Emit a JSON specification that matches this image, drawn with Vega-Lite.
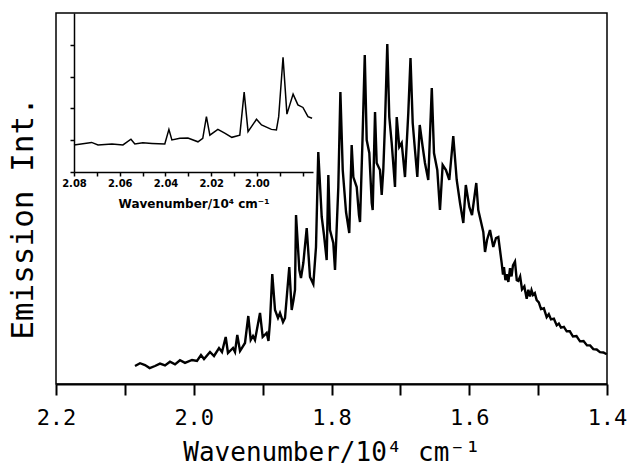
{
  "$schema": "https://vega.github.io/schema/vega-lite/v6.json",
  "autosize": {"type": "none"},
  "padding": {"left": 56, "top": 13, "right": 22, "bottom": 87},
  "width": 551,
  "height": 371,
  "background": "white",
  "config": {"view": {"stroke": "black", "strokeWidth": 1.5}, "axis": {"grid": false}},
  "datasets": {
    "main": [
      {"w":2.0853,"I":4.85},{"w":2.0780,"I":5.6},{"w":2.0708,"I":5.12},{"w":2.0640,"I":4.3},{"w":2.0563,"I":4.85},{"w":2.0490,"I":5.5},{"w":2.0417,"I":5.0},{"w":2.0345,"I":6.0},{"w":2.0272,"I":5.3},{"w":2.0200,"I":6.4},{"w":2.0127,"I":5.7},{"w":2.0025,"I":6.47},{"w":1.9953,"I":6.2},{"w":1.9895,"I":7.82},{"w":1.9851,"I":6.74},{"w":1.9764,"I":8.63},{"w":1.9706,"I":7.55},{"w":1.9633,"I":9.7},{"w":1.959,"I":8.63},{"w":1.9536,"I":12.67},{"w":1.9503,"I":8.36},{"w":1.943,"I":9.7},{"w":1.9401,"I":8.63},{"w":1.9368,"I":13.21},{"w":1.9328,"I":8.89},{"w":1.9256,"I":11.05},{"w":1.9208,"I":18.33},{"w":1.9173,"I":11.86},{"w":1.914,"I":12.94},{"w":1.9111,"I":11.86},{"w":1.9038,"I":19.14},{"w":1.8999,"I":12.67},{"w":1.8941,"I":13.75},{"w":1.8915,"I":11.59},{"w":1.8893,"I":16.71},{"w":1.886,"I":29.65},{"w":1.882,"I":19.95},{"w":1.8777,"I":17.79},{"w":1.8748,"I":19.14},{"w":1.8704,"I":16.71},{"w":1.8675,"I":17.79},{"w":1.8613,"I":31.54},{"w":1.8578,"I":19.95},{"w":1.8552,"I":22.64},{"w":1.853,"I":25.34},{"w":1.8515,"I":45.55},{"w":1.8467,"I":30.73},{"w":1.8443,"I":28.57},{"w":1.8409,"I":32.61},{"w":1.836,"I":42.05},{"w":1.8312,"I":28.84},{"w":1.8264,"I":26.95},{"w":1.8225,"I":36.93},{"w":1.8192,"I":62.53},{"w":1.8142,"I":45.01},{"w":1.8109,"I":40.16},{"w":1.807,"I":33.42},{"w":1.8046,"I":56.33},{"w":1.8022,"I":41.51},{"w":1.7974,"I":38.01},{"w":1.7949,"I":30.73},{"w":1.7901,"I":53.1},{"w":1.7871,"I":78.71},{"w":1.7837,"I":57.68},{"w":1.7789,"I":46.36},{"w":1.7742,"I":40.7},{"w":1.7707,"I":64.42},{"w":1.7683,"I":55.79},{"w":1.7634,"I":53.1},{"w":1.7601,"I":45.55},{"w":1.7586,"I":43.67},{"w":1.755,"I":65.77},{"w":1.7517,"I":88.68},{"w":1.7489,"I":65.77},{"w":1.7451,"I":62.26},{"w":1.7416,"I":48.79},{"w":1.7402,"I":46.9},{"w":1.7368,"I":73.31},{"w":1.7344,"I":59.57},{"w":1.7296,"I":57.68},{"w":1.7271,"I":50.94},{"w":1.7248,"I":57.68},{"w":1.7223,"I":70.35},{"w":1.719,"I":91.64},{"w":1.7161,"I":71.97},{"w":1.7126,"I":64.96},{"w":1.7078,"I":53.1},{"w":1.7053,"I":71.97},{"w":1.7016,"I":63.88},{"w":1.6981,"I":64.96},{"w":1.6933,"I":55.79},{"w":1.6885,"I":73.05},{"w":1.6853,"I":87.87},{"w":1.6821,"I":70.35},{"w":1.6788,"I":63.07},{"w":1.6754,"I":55.79},{"w":1.6719,"I":69.81},{"w":1.6676,"I":63.88},{"w":1.6643,"I":59.57},{"w":1.6595,"I":54.99},{"w":1.6544,"I":79.78},{"w":1.6512,"I":62.26},{"w":1.6464,"I":57.68},{"w":1.6425,"I":46.9},{"w":1.6386,"I":59.03},{"w":1.6338,"I":57.68},{"w":1.629,"I":54.99},{"w":1.6232,"I":66.85},{"w":1.6182,"I":54.99},{"w":1.6134,"I":48.79},{"w":1.6086,"I":43.4},{"w":1.605,"I":53.64},{"w":1.5999,"I":47.71},{"w":1.596,"I":45.55},{"w":1.5898,"I":54.18},{"w":1.5869,"I":46.9},{"w":1.5829,"I":43.67},{"w":1.5796,"I":40.97},{"w":1.5771,"I":35.58},{"w":1.5742,"I":38.81},{"w":1.5699,"I":41.51},{"w":1.5651,"I":36.93},{"w":1.5612,"I":39.35},{"w":1.5578,"I":39.62},{"w":1.5529,"I":32.6},{"w":1.551,"I":29.5},{"w":1.5496,"I":31.5},{"w":1.5475,"I":28.0},{"w":1.5456,"I":29.6},{"w":1.5432,"I":27.5},{"w":1.5408,"I":31.2},{"w":1.5386,"I":29.0},{"w":1.5365,"I":32.0},{"w":1.5336,"I":33.0},{"w":1.531,"I":28.0},{"w":1.5288,"I":27.8},{"w":1.5261,"I":29.0},{"w":1.5234,"I":25.5},{"w":1.52,"I":26.3},{"w":1.5166,"I":23.0},{"w":1.5142,"I":25.4},{"w":1.5118,"I":23.6},{"w":1.5096,"I":25.3},{"w":1.5074,"I":24.0},{"w":1.5048,"I":24.5},{"w":1.5021,"I":22.6},{"w":1.499,"I":22.0},{"w":1.4958,"I":20.2},{"w":1.4917,"I":20.4},{"w":1.4876,"I":18.0},{"w":1.4845,"I":18.8},{"w":1.4813,"I":17.4},{"w":1.4771,"I":17.6},{"w":1.473,"I":15.8},{"w":1.4699,"I":16.3},{"w":1.4668,"I":15.2},{"w":1.4626,"I":15.4},{"w":1.4585,"I":14.2},{"w":1.454,"I":14.2},{"w":1.4494,"I":12.8},{"w":1.4443,"I":12.9},{"w":1.4392,"I":11.5},{"w":1.4341,"I":11.6},{"w":1.429,"I":10.4},{"w":1.4245,"I":10.4},{"w":1.4199,"I":9.4},{"w":1.415,"I":9.3},{"w":1.4102,"I":8.6},{"w":1.4053,"I":8.5},{"w":1.4004,"I":8.0}
    ],
    "inset": [
      {"w":2.08,"I":0.85},{"w":2.0723,"I":0.93},{"w":2.0695,"I":0.85},{"w":2.0634,"I":0.88},{"w":2.0586,"I":0.85},{"w":2.0551,"I":1.03},{"w":2.0534,"I":0.88},{"w":2.0499,"I":0.92},{"w":2.0459,"I":0.9},{"w":2.0403,"I":0.88},{"w":2.0385,"I":1.34},{"w":2.0372,"I":1.01},{"w":2.0337,"I":1.06},{"w":2.0302,"I":1.07},{"w":2.0258,"I":0.95},{"w":2.0237,"I":1.06},{"w":2.0221,"I":1.74},{"w":2.0206,"I":1.16},{"w":2.0171,"I":1.34},{"w":2.0141,"I":1.22},{"w":2.011,"I":1.09},{"w":2.0075,"I":1.16},{"w":2.0056,"I":2.51},{"w":2.0039,"I":1.27},{"w":2.0002,"I":1.66},{"w":1.998,"I":1.48},{"w":1.9937,"I":1.34},{"w":1.9915,"I":1.32},{"w":1.9905,"I":1.74},{"w":1.9886,"I":3.61},{"w":1.9869,"I":1.82},{"w":1.9842,"I":2.45},{"w":1.9821,"I":2.11},{"w":1.9799,"I":2.03},{"w":1.9777,"I":1.74},{"w":1.9759,"I":1.69}
    ]
  },
  "layer": [
    {
      "data": {"name": "main"},
      "mark": {"type": "line", "color": "black", "strokeWidth": 2.4},
      "encoding": {
        "x": {
          "field": "w", "type": "quantitative",
          "scale": {"domain": [2.2, 1.4], "nice": false, "zero": false},
          "axis": {
            "values": [2.2, 2.1, 2.0, 1.9, 1.8, 1.7, 1.6, 1.5, 1.4],
            "labelExpr": "round(datum.value*10) % 2 == 0 ? format(datum.value, '.1f') : ''",
            "title": "Wavenumber/10⁴ cm⁻¹",
            "titleFont": "DejaVu Sans Mono", "titleFontSize": 26, "titleFontWeight": "normal", "titleColor": "black",
            "titleY": 68, "titleBaseline": "middle",
            "labelFont": "DejaVu Sans Mono", "labelFontSize": 22, "labelColor": "black",
            "labelBaseline": "middle", "labelPadding": 22, "labelFlush": false, "labelOverlap": false,
            "tickSize": 11, "tickWidth": 2, "tickColor": "black",
            "domainColor": "black", "domainWidth": 2, "grid": false
          }
        },
        "y": {
          "field": "I", "type": "quantitative",
          "scale": {"domain": [0, 100], "nice": false},
          "axis": {
            "title": "Emission Int.", "labels": false, "ticks": false, "domain": false, "grid": false,
            "titleFont": "DejaVu Sans Mono", "titleFontSize": 31, "titleFontWeight": "normal", "titleColor": "black",
            "titleX": -33, "titleY": 205, "titleAngle": -90, "titleAlign": "center", "titleBaseline": "middle"
          }
        }
      }
    },
    {
      "data": {"name": "inset"},
      "mark": {"type": "line", "color": "black", "strokeWidth": 1.5},
      "encoding": {
        "x": {
          "field": "w", "type": "quantitative",
          "scale": {"domain": [2.08, 1.9755], "range": [18, 257], "nice": false, "zero": false},
          "axis": {
            "orient": "bottom", "offset": -212,
            "values": [2.08, 2.07, 2.06, 2.05, 2.04, 2.03, 2.02, 2.01, 2.0, 1.99, 1.98],
            "labelExpr": "datum.value > 1.995 && round(datum.value*100) % 2 == 0 ? format(datum.value, '.2f') : ''",
            "title": "Wavenumber/10⁴ cm⁻¹",
            "titleFont": "DejaVu Sans", "titleFontSize": 12, "titleFontWeight": "bold", "titleColor": "black",
            "titleY": 31, "titleBaseline": "middle",
            "labelFont": "DejaVu Sans", "labelFontSize": 10, "labelFontWeight": "bold", "labelColor": "black",
            "labelBaseline": "middle", "labelPadding": 7, "labelFlush": false, "labelOverlap": false,
            "tickSize": 4, "tickWidth": 1.5, "tickColor": "black",
            "domainColor": "black", "domainWidth": 1.5, "grid": false
          }
        },
        "y": {
          "field": "I", "type": "quantitative",
          "scale": {"domain": [0, 5], "range": [159, 0], "nice": false},
          "axis": {
            "orient": "left", "offset": -18,
            "values": [0, 1, 2, 3, 4],
            "labels": false, "title": null, "grid": false,
            "tickSize": 4, "tickWidth": 1.5, "tickColor": "black",
            "domainColor": "black", "domainWidth": 1.5
          }
        }
      }
    }
  ],
  "resolve": {
    "scale": {"x": "independent", "y": "independent"},
    "axis": {"x": "independent", "y": "independent"}
  }
}
